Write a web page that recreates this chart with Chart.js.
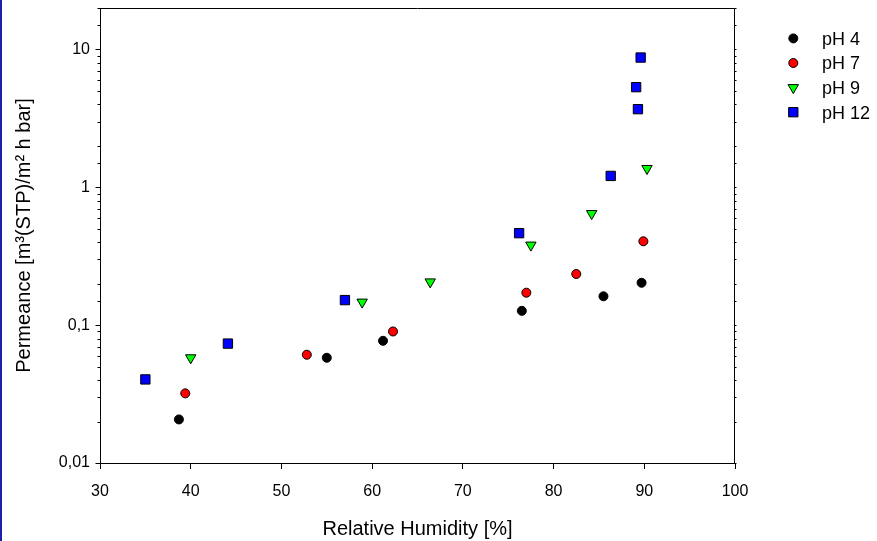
<!DOCTYPE html>
<html>
<head>
<meta charset="utf-8">
<title>Permeance vs. relative humidity</title>
<script src="https://cdn.jsdelivr.net/npm/chart.js@4/dist/chart.umd.min.js"></script>
<style>
  html, body { margin: 0; padding: 0; background: #ffffff; }
  #wrap { position: relative; width: 877px; height: 541px; overflow: hidden; }
  #edge { position: absolute; left: 0; top: 0; width: 2px; height: 541px; background: #1e1ea8; }
  canvas { position: absolute; left: 0; top: 0; }
</style>
</head>
<body>
<div id="wrap">
  <canvas id="chart" width="877" height="541"></canvas>
  <div id="edge"></div>
</div>
<script>
// Relative humidity [%] and permeance [m³(STP)/m² h bar] per pH level
const seriesLabels = ['pH 4', 'pH 7', 'pH 9', 'pH 12'];

const humidityPH4  = [38.7, 55.0, 61.2, 76.5, 85.5, 89.7];
const permeancePH4 = [0.0207, 0.058, 0.077, 0.127, 0.162, 0.203];

const humidityPH7  = [39.4, 52.8, 62.3, 77.0, 82.5, 89.9];
const permeancePH7 = [0.032, 0.061, 0.090, 0.172, 0.235, 0.406];

const humidityPH9  = [40.0, 58.9, 66.4, 77.5, 84.2, 90.3];
const permeancePH9 = [0.058, 0.147, 0.206, 0.381, 0.645, 1.37];

const humidityPH12  = [35.0, 44.1, 57.0, 76.2, 86.3, 89.3, 89.1, 89.6];
const permeancePH12 = [0.0404, 0.0735, 0.152, 0.465, 1.21, 3.69, 5.33, 8.74];

const xTickValues = [30, 40, 50, 60, 70, 80, 90, 100];
const yDecadeLabels = ['0,01', '0,1', '1', '10'];   // for 10^-2 … 10^1

const FONT = '"Liberation Sans", Arial, Helvetica, sans-serif';

function points(xs, ys) {
  return xs.map((x, i) => ({ x: x, y: ys[i] }));
}

const markerStyles = [
  { pointStyle: 'circle',   radius: 4.5, rotation: 0,   fill: '#000000' },
  { pointStyle: 'circle',   radius: 4.5, rotation: 0,   fill: '#ff0000' },
  { pointStyle: 'triangle', radius: 6,   rotation: 180, fill: '#00ff00' },
  { pointStyle: 'rect',     radius: 6.6, rotation: 0,   fill: '#0000ff' }
];

const seriesData = [
  points(humidityPH4, permeancePH4),
  points(humidityPH7, permeancePH7),
  points(humidityPH9, permeancePH9),
  points(humidityPH12, permeancePH12)
];

const datasets = seriesData.map((d, i) => ({
  label: seriesLabels[i],
  data: d,
  showLine: false,
  pointStyle: markerStyles[i].pointStyle,
  pointRadius: markerStyles[i].radius,
  pointHoverRadius: markerStyles[i].radius,
  pointRotation: markerStyles[i].rotation,
  pointBackgroundColor: markerStyles[i].fill,
  pointBorderColor: '#000000',
  pointBorderWidth: 1
}));

function isDecade(v) {
  const l = Math.log10(v);
  return Math.abs(l - Math.round(l)) < 1e-9;
}

// Frame, log tick marks and the series key
const framePlugin = {
  id: 'frame',
  afterDraw(chart) {
    const ctx = chart.ctx;
    const a = chart.chartArea;
    const y = chart.scales.y;
    const L = Math.round(a.left) + 0.5;
    const R = Math.round(a.right) - 0.5;
    const T = Math.round(a.top) + 0.5;
    const B = Math.round(a.bottom) + 0.5;

    ctx.save();
    ctx.strokeStyle = '#000000';
    ctx.lineWidth = 1;
    ctx.beginPath();
    ctx.moveTo(L, T); ctx.lineTo(R, T);
    ctx.moveTo(R, T); ctx.lineTo(R, B);
    ctx.stroke();

    // tick marks on the logarithmic axis (left outward, right tiny)
    ctx.beginPath();
    y.ticks.forEach(t => {
      const py = Math.round(y.getPixelForValue(t.value)) + 0.5;
      if (py < a.top - 0.5 || py > a.bottom + 1) return;
      const len = isDecade(t.value) ? 5 : 3;
      ctx.moveTo(L - len, py); ctx.lineTo(L, py);
      ctx.moveTo(R, py); ctx.lineTo(R + 2, py);
    });
    ctx.stroke();

    // series key
    const keyX = 793.3, textX = 822, keyY0 = 38.4, keyStep = 24.6;
    ctx.font = '18px ' + FONT;
    ctx.textAlign = 'left';
    ctx.textBaseline = 'middle';
    seriesLabels.forEach((lab, i) => {
      const m = markerStyles[i];
      const cy = keyY0 + i * keyStep;
      ctx.fillStyle = m.fill;
      ctx.strokeStyle = '#000000';
      ctx.lineWidth = 1;
      Chart.helpers.drawPoint(ctx, {
        pointStyle: m.pointStyle, radius: m.radius, rotation: m.rotation, borderWidth: 1
      }, keyX, cy);
      ctx.fillStyle = '#000000';
      ctx.fillText(lab, textX, cy + 1.5);
    });
    ctx.restore();
  }
};

Chart.defaults.font.family = FONT;
Chart.defaults.color = '#000000';

new Chart(document.getElementById('chart'), {
  type: 'scatter',
  data: { datasets: datasets },
  options: {
    responsive: false,
    devicePixelRatio: 1,
    animation: false,
    layout: { padding: { left: 0, right: 142, top: 8, bottom: 0 } },
    plugins: {
      legend: { display: false },
      tooltip: { enabled: false }
    },
    scales: {
      x: {
        type: 'linear',
        min: 30,
        max: 100,
        afterFit(scale) { scale.height = 78; scale.paddingLeft = 0; scale.paddingRight = 0; },
        afterBuildTicks(scale) { scale.ticks = xTickValues.map(v => ({ value: v })); },
        ticks: {
          font: { size: 16 },
          color: '#000000',
          padding: 13,
          maxRotation: 0,
          callback: v => String(v)
        },
        grid: {
          display: true,
          drawOnChartArea: false,
          drawTicks: true,
          tickLength: 6,
          color: '#000000',
          lineWidth: 1
        },
        border: { display: true, color: '#000000', width: 1 },
        title: {
          display: true,
          text: 'Relative Humidity [%]',
          font: { size: 20 },
          color: '#000000',
          padding: { top: 0, bottom: 0 }
        }
      },
      y: {
        type: 'logarithmic',
        min: 0.01,
        max: 20,
        afterFit(scale) { scale.width = 100; scale.paddingTop = 0; scale.paddingBottom = 0; },
        ticks: {
          font: { size: 16 },
          color: '#000000',
          padding: 10,
          autoSkip: false,
          callback: function (v) {
            if (!isDecade(v)) return '';
            const idx = Math.round(Math.log10(v)) + 2;
            return yDecadeLabels[idx] !== undefined ? yDecadeLabels[idx] : '';
          }
        },
        grid: {
          display: true,
          drawOnChartArea: false,
          drawTicks: false,
          color: 'rgba(0,0,0,0)'
        },
        border: { display: true, color: '#000000', width: 1 },
        title: {
          display: true,
          text: 'Permeance [m³(STP)/m² h bar]',
          font: { size: 20 },
          color: '#000000',
          padding: { top: 12, bottom: 0 }
        }
      }
    }
  },
  plugins: [framePlugin]
});
</script>
</body>
</html>
